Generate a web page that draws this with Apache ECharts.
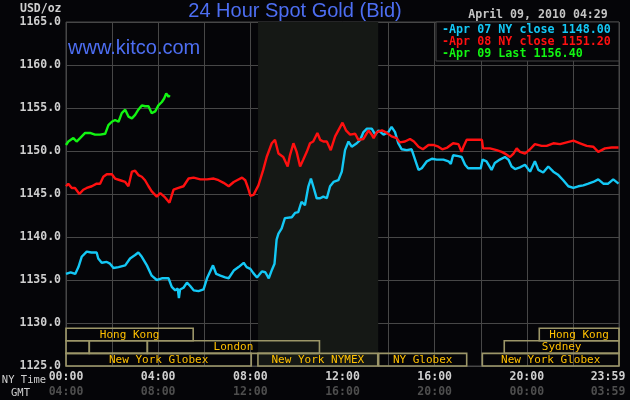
<!DOCTYPE html>
<html><head><meta charset="utf-8">
<script src="https://cdn.jsdelivr.net/npm/echarts@6/dist/echarts.min.js"></script>
<style>html,body{margin:0;padding:0;background:#050508;}#c{width:630px;height:400px;}</style>
</head><body><div id="c"></div>
<script>
// ---- data (hours NY time, USD/oz) ----
const blueHours = [0,0.2,0.4,0.54,0.68,0.9,1.1,1.33,1.4,1.55,1.77,1.91,2.06,2.28,2.57,2.78,3.0,3.14,3.29,3.51,3.72,3.94,4.16,4.45,4.59,4.74,4.85,4.9,4.95,5.1,5.25,5.39,5.54,5.75,5.97,6.12,6.38,6.52,6.7,6.91,7.06,7.28,7.49,7.71,7.84,8.0,8.13,8.29,8.5,8.65,8.8,8.94,9.05,9.14,9.22,9.36,9.5,9.8,9.94,10.08,10.22,10.37,10.52,10.63,10.73,10.88,11.03,11.17,11.32,11.46,11.61,11.82,11.97,12.11,12.26,12.4,12.62,12.77,12.91,13.06,13.27,13.42,13.56,13.78,13.99,14.13,14.28,14.42,14.57,14.79,15.0,15.15,15.3,15.44,15.66,15.88,16.09,16.38,16.6,16.7,16.8,17.03,17.17,17.32,17.45,18.0,18.08,18.25,18.47,18.61,18.83,19.05,19.2,19.34,19.49,19.7,19.92,20.14,20.35,20.5,20.71,20.93,21.15,21.37,21.58,21.8,22.02,22.23,22.45,22.67,22.88,23.1,23.32,23.53,23.75,23.98];
const blueValues = [1135.7,1135.9,1135.7,1136.5,1137.7,1138.3,1138.2,1138.2,1137.5,1137.0,1137.1,1136.9,1136.4,1136.5,1136.7,1137.5,1137.9,1138.2,1137.7,1136.7,1135.5,1135.0,1135.2,1135.2,1134.2,1133.8,1134.0,1132.9,1133.9,1134.1,1134.7,1134.3,1133.8,1133.7,1133.9,1135.2,1136.7,1135.7,1135.5,1135.3,1135.2,1136.1,1136.5,1137.0,1136.5,1136.3,1135.8,1135.3,1136.0,1135.9,1135.2,1136.2,1136.9,1139.7,1140.4,1141.0,1142.2,1142.3,1142.8,1142.9,1144.1,1143.7,1145.9,1146.8,1145.9,1144.5,1144.5,1144.7,1144.5,1145.9,1146.4,1146.6,1147.6,1150.1,1151.1,1150.5,1150.9,1151.3,1152.2,1152.6,1152.6,1151.9,1152.4,1151.9,1152.2,1152.8,1152.2,1150.9,1150.2,1150.1,1150.2,1149.0,1147.8,1148.0,1148.8,1149.1,1149.0,1149.0,1148.8,1148.5,1149.5,1149.4,1149.3,1148.4,1148.0,1148.0,1149.0,1148.8,1147.8,1148.6,1149.0,1149.3,1149.0,1148.2,1147.9,1148.1,1148.4,1147.6,1148.8,1147.8,1147.5,1148.2,1147.6,1147.2,1146.6,1145.9,1145.7,1145.9,1146.0,1146.2,1146.4,1146.7,1146.2,1146.2,1146.7,1146.2];

const redHours = [0,0.1,0.25,0.39,0.58,0.75,0.9,1.12,1.33,1.48,1.62,1.77,1.99,2.13,2.35,2.57,2.71,2.86,3.0,3.14,3.29,3.43,3.58,3.72,3.94,4.09,4.3,4.49,4.67,4.88,5.1,5.32,5.54,5.83,6.12,6.41,6.62,6.84,7.06,7.28,7.42,7.64,7.78,7.9,8.0,8.14,8.35,8.56,8.71,8.93,9.07,9.22,9.43,9.62,9.72,9.87,10.01,10.16,10.3,10.45,10.59,10.73,10.91,11.03,11.17,11.32,11.49,11.68,11.82,12.0,12.15,12.33,12.55,12.69,12.91,13.13,13.27,13.35,13.49,13.71,13.93,14.13,14.35,14.49,14.71,14.93,15.1,15.3,15.49,15.73,15.94,16.16,16.33,16.55,16.8,17.03,17.17,17.25,17.39,18.05,18.1,18.4,18.69,18.91,19.05,19.27,19.42,19.56,19.7,19.92,20.14,20.35,20.64,20.86,21.15,21.44,21.73,22.02,22.31,22.6,22.88,23.1,23.39,23.68,23.98];
const redValues = [1145.9,1146.2,1145.7,1145.7,1145.0,1145.5,1145.7,1145.9,1146.2,1146.2,1147.0,1147.3,1147.3,1146.8,1146.6,1146.4,1145.9,1147.6,1147.7,1147.2,1147.0,1146.6,1145.9,1145.3,1144.7,1145.1,1144.6,1144.0,1145.5,1145.7,1145.9,1146.8,1146.9,1146.7,1146.7,1146.8,1146.6,1146.3,1145.9,1146.4,1146.6,1146.9,1146.6,1145.7,1144.8,1144.9,1146.0,1147.8,1149.3,1150.9,1151.3,1149.7,1149.3,1148.2,1149.5,1150.9,1149.9,1148.2,1149.0,1149.9,1150.9,1151.1,1152.1,1151.3,1151.1,1151.1,1150.1,1151.7,1152.4,1153.3,1152.4,1151.9,1152.0,1151.3,1151.4,1152.4,1151.9,1151.5,1152.2,1152.4,1152.1,1151.7,1151.5,1151.0,1151.1,1151.4,1151.1,1150.5,1150.2,1150.7,1150.7,1150.5,1150.2,1150.4,1150.9,1150.8,1149.9,1150.5,1151.3,1151.3,1150.3,1150.3,1150.1,1149.9,1149.7,1149.3,1149.7,1150.3,1149.9,1149.7,1150.2,1150.8,1150.6,1150.6,1150.9,1150.8,1151.0,1151.2,1150.9,1150.6,1150.5,1149.9,1150.3,1150.4,1150.4];

const greenHours = [0,0.1,0.32,0.46,0.61,0.83,1.04,1.26,1.48,1.7,1.84,1.99,2.13,2.28,2.42,2.57,2.71,2.86,3.0,3.14,3.29,3.43,3.58,3.72,3.87,4.01,4.16,4.26,4.35,4.45,4.5];
const greenValues = [1150.7,1151.1,1151.5,1151.1,1151.5,1152.1,1152.1,1151.9,1151.9,1152.0,1153.0,1153.4,1153.6,1153.4,1154.4,1154.8,1154.0,1153.8,1154.2,1154.8,1155.3,1155.2,1155.2,1154.4,1154.6,1155.3,1155.7,1156.1,1156.7,1156.3,1156.5];

const legendLabels = ['Apr 07 NY close 1148.00','Apr 08 NY close 1151.20','Apr 09 Last 1156.40'];
const nyTickLabels = ['00:00','04:00','08:00','12:00','16:00','20:00','23:59'];
const gmtTickLabels = ['04:00','08:00','12:00','16:00','20:00','00:00','03:59'];
const nymexShade = [8.333, 13.55];

const sessionStart = [0, 20.54, 0, 1.01, 3.53, 19.02, 0, 8.33, 13.57, 18.07];
const sessionEnd   = [5.52, 24, 1.01, 3.53, 11.0, 24, 8.04, 13.53, 17.39, 24];
const sessionRow   = [0, 0, 1, 1, 1, 1, 2, 2, 2, 2];
const sessionLabel = ['Hong Kong','Hong Kong','','','London','Sydney','New York Globex','New York NYMEX','NY Globex','New York Globex'];

// ---- chart ----
const MONO = '"DejaVu Sans Mono", "Liberation Mono", monospace';
const SANS = '"Liberation Sans", Arial, sans-serif';
const COLORS = ['#14c8f5', '#ff1010', '#12f512'];
const chart = echarts.init(document.getElementById('c'));
const pair = (h, v) => h.map((x, i) => [x, v[i]]);

chart.setOption({
  backgroundColor: '#050508',
  animation: false,
  grid: { left: 66, right: 11, top: 22, bottom: 34, containLabel: false, outerBoundsMode: 'none', show: true, borderColor: '#474747', borderWidth: 1, backgroundColor: 'transparent' },
  xAxis: {
    type: 'value', min: 0, max: 24, interval: 2,
    axisLine: { show: false }, axisTick: { show: false },
    splitLine: { show: true, lineStyle: { color: '#474747', width: 1 } },
    axisLabel: {
      margin: 4, showMaxLabel: true, showMinLabel: true, hideOverlap: false,
      formatter: function (v) {
        if (v % 4 !== 0) return '';
        const i = v / 4;
        if (i === 6) return '{ne|' + nyTickLabels[i] + '}\n{ge|' + gmtTickLabels[i] + '}';
        return '{n|' + nyTickLabels[i] + '}\n{g|' + gmtTickLabels[i] + '}';
      },
      rich: {
        n: { color: '#cfcfcf', fontFamily: MONO, fontWeight: 'bold', fontSize: 11.5, lineHeight: 15 },
        g: { color: '#4e4e4e', fontFamily: MONO, fontWeight: 'bold', fontSize: 11.5, lineHeight: 15 },
        ne: { color: '#cfcfcf', fontFamily: MONO, fontWeight: 'bold', fontSize: 11.5, lineHeight: 15, padding: [0, 22, 0, 0] },
        ge: { color: '#4e4e4e', fontFamily: MONO, fontWeight: 'bold', fontSize: 11.5, lineHeight: 15, padding: [0, 22, 0, 0] }
      }
    }
  },
  yAxis: {
    type: 'value', min: 1125, max: 1165, interval: 5,
    axisLine: { show: false }, axisTick: { show: false },
    splitLine: { show: true, lineStyle: { color: '#474747', width: 1 } },
    axisLabel: {
      margin: 5, color: '#cfcfcf', fontFamily: MONO, fontWeight: 'bold', fontSize: 11.5,
      formatter: v => v.toFixed(1)
    }
  },
  series: [
    {
      type: 'line', z: -1, data: [], silent: true,
      markArea: { silent: true, itemStyle: { color: '#151815' }, data: [[{ xAxis: nymexShade[0] }, { xAxis: nymexShade[1] }]] }
    },
    {
      type: 'custom', z: 3, silent: true,
      data: sessionStart.map((s, i) => [s, sessionEnd[i], sessionRow[i]]),
      encode: { x: [0, 1], y: 2 },
      renderItem: function (params, api) {
        const x0 = api.coord([api.value(0), 1125])[0];
        const x1 = api.coord([api.value(1), 1125])[0];
        const yb = api.coord([0, 1125])[1];
        const rowH = 12.6;
        const top = yb - (3 - api.value(2)) * rowH;
        const label = sessionLabel[params.dataIndex];
        return {
          type: 'group', children: [
            { type: 'rect', shape: { x: x0, y: top, width: x1 - x0, height: rowH }, style: { fill: 'none', stroke: '#9c9668', lineWidth: 1.6 } },
            { type: 'text', style: { text: label, x: (x0 + x1) / 2, y: top + rowH / 2 + 0.5, align: 'center', verticalAlign: 'middle', fill: '#ffc000', font: '11px ' + MONO } }
          ]
        };
      }
    },
    { type: 'line', z: 4, showSymbol: false, data: pair(blueHours, blueValues), lineStyle: { color: COLORS[0], width: 2.4 } },
    { type: 'line', z: 5, showSymbol: false, data: pair(redHours, redValues), lineStyle: { color: COLORS[1], width: 2.4 } },
    { type: 'line', z: 6, showSymbol: false, data: pair(greenHours, greenValues), lineStyle: { color: COLORS[2], width: 2.4 } }
  ],
  graphic: [
    { type: 'text', left: 20, top: 3, style: { text: 'USD/oz', fill: '#cfcfcf', font: 'bold 11.5px ' + MONO } },
    { type: 'text', x: 295, y: 11, style: { text: '24 Hour Spot Gold (Bid)', fill: '#4d6ef2', font: '20px ' + SANS, align: 'center', verticalAlign: 'middle' } },
    { type: 'text', x: 538, y: 15, style: { text: 'April 09, 2010 04:29', fill: '#c4c4c4', font: 'bold 11.6px ' + MONO, align: 'center', verticalAlign: 'middle' } },
    { type: 'text', x: 68, y: 48, z: 10, style: { text: 'www.kitco.com', fill: '#4d6ef2', font: '20px ' + SANS, align: 'left', verticalAlign: 'middle' } },
    { type: 'rect', z: 10, shape: { x: 436, y: 22, width: 183, height: 39 }, style: { fill: '#050508', stroke: '#474747', lineWidth: 1 } },
    { type: 'text', z: 11, x: 442, y: 29.5, style: { text: '-' + legendLabels[0], fill: COLORS[0], font: 'bold 11.7px ' + MONO, verticalAlign: 'middle' } },
    { type: 'text', z: 11, x: 442, y: 41.5, style: { text: '-' + legendLabels[1], fill: COLORS[1], font: 'bold 11.7px ' + MONO, verticalAlign: 'middle' } },
    { type: 'text', z: 11, x: 442, y: 53.5, style: { text: '-' + legendLabels[2], fill: COLORS[2], font: 'bold 11.7px ' + MONO, verticalAlign: 'middle' } },
    { type: 'text', x: 24, y: 380, style: { text: 'NY Time', fill: '#cfcfcf', font: '10.5px ' + MONO, align: 'center', verticalAlign: 'middle' } },
    { type: 'text', x: 20.5, y: 393, style: { text: 'GMT', fill: '#cfcfcf', font: '10.5px ' + MONO, align: 'center', verticalAlign: 'middle' } }
  ]
});
</script></body></html>
